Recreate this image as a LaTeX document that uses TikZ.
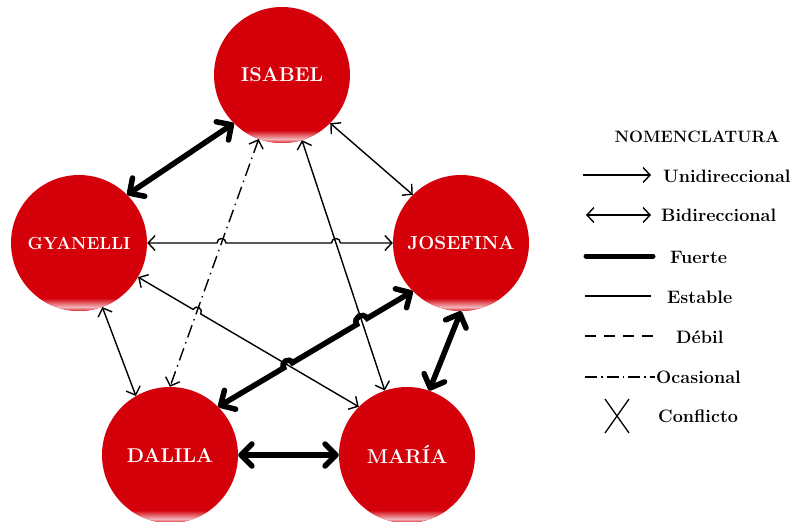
\documentclass[tikz,border=0pt]{standalone}
\usepackage{fontspec}
\usetikzlibrary{arrows.meta,calc,intersections}
\definecolor{nodered}{RGB}{212,0,10}
\definecolor{nodelight}{RGB}{240,180,185}
\tikzset{
  person/.style={circle, minimum size=136pt, inner sep=0pt, fill=nodered, text=white},
  rel/.style={line width=1.4pt, >={Straight Barb[length=7pt,width=15pt]}, <->},
  relone/.style={line width=1.4pt, >={Straight Barb[length=7pt,width=15pt]}, ->},
  strong/.style={line width=5.5pt, >={Straight Barb[round,length=11pt,width=22pt]}, <->},
  occasional/.style={dash pattern=on 13pt off 5pt on 1.5pt off 5pt},
  hop/.style={bend left=90, looseness=1.7},
  legtext/.style={font=\fontsize{18}{21}\selectfont\bfseries, anchor=west, inner sep=0pt},
}
\begin{document}
\begin{tikzpicture}[x=1pt,y=-1pt]
\useasboundingbox (0,0) rectangle (796,522);

% people
\node[person, font=\fontsize{20}{24}\selectfont\bfseries] (isabel) at (282,75) {ISABEL};
\node[person, font=\fontsize{17.5}{21}\selectfont\bfseries] (gyanelli) at (79,243) {GYANELLI};
\node[person, font=\fontsize{19}{22}\selectfont\bfseries] (josefina) at (461,243) {JOSEFINA};
\node[person, font=\fontsize{20}{24}\selectfont\bfseries] (dalila) at (170,455) {DALILA};
\node[person, font=\fontsize{20}{24}\selectfont\bfseries] (maria) at (407,455) {MARÍA};

% glossy bottom band
\foreach \n in {isabel,gyanelli,josefina,dalila,maria}{
  \begin{scope}
    \clip (\n) circle[radius=68];
    \shade[top color=nodered, bottom color=nodelight] ($(\n)+(-70,55)$) rectangle ($(\n)+(70,64)$);
    \shade[top color=nodelight, bottom color=nodered] ($(\n)+(-70,64)$) rectangle ($(\n)+(70,69)$);
  \end{scope}
}

% invisible guide paths for the crossings
\path[name path=dd] (isabel.250) -- (dalila.north);
\path[name path=im] (isabel.-73) -- (maria.109);
\path[name path=gj] (gyanelli.east) -- (josefina.west);
\path[name path=gm] (gyanelli.-30) -- (maria.135);
\path[name path=dj] (dalila.45) -- (josefina.225);
\path[name intersections={of=gj and dd, by={h1}}];
\path[name intersections={of=gj and im, by={h2}}];
\path[name intersections={of=gm and dd, by={h3}}];
\path[name intersections={of=dj and gm, by={h4}}];
\path[name intersections={of=dj and im, by={h5}}];

% connectors without hops
\draw[strong] (isabel.225) -- (gyanelli.45);
\draw[rel] (isabel.-45) -- (josefina.135);
\draw[rel, occasional] (isabel.250) -- (dalila.north);
\draw[rel] (isabel.-73) -- (maria.109);
\draw[rel] (gyanelli.-70) -- (dalila.120);
\draw[strong] (josefina.south) -- (maria.71);
\draw[strong] (dalila.east) -- (maria.west);

% connectors with hops
\draw[rel] (gyanelli.east) -- ($(h1)!4.5pt!(gyanelli.east)$) to[hop] ($(h1)!4.5pt!(josefina.west)$)
  -- ($(h2)!4.5pt!(gyanelli.east)$) to[hop] ($(h2)!4.5pt!(josefina.west)$) -- (josefina.west);
\draw[rel] (gyanelli.-30) -- ($(h3)!4.5pt!(gyanelli.-30)$) to[hop] ($(h3)!4.5pt!(maria.135)$) -- (maria.135);
\draw[strong] (dalila.45) -- ($(h4)!5pt!(dalila.45)$) to[hop] ($(h4)!5pt!(josefina.225)$)
  -- ($(h5)!6pt!(dalila.45)$) to[hop] ($(h5)!6pt!(josefina.225)$) -- (josefina.225);

% legend
\node[font=\fontsize{16.5}{20}\selectfont\bfseries] (nom) at (697,137) {NOMENCLATURA};

\coordinate (u1) at (583,175); \coordinate (u2) at (651,175);
\draw[relone] (u1) -- (u2);
\node[legtext] (lu) at (663,176) {Unidireccional};

\coordinate (b1) at (586,215); \coordinate (b2) at (651,215);
\draw[rel] (b1) -- (b2);
\node[legtext] (lb) at (661,215) {Bidireccional};

\coordinate (f1) at (586,256); \coordinate (f2) at (653,256);
\draw[line width=5pt, line cap=round] (f1) -- (f2);
\node[legtext] (lf) at (670,257) {Fuerte};

\coordinate (e1) at (585,296); \coordinate (e2) at (651,296);
\draw[line width=1.4pt] (e1) -- (e2);
\node[legtext] (le) at (667,297) {Estable};

\coordinate (d1) at (585,336); \coordinate (d2) at (653,336);
\draw[line width=1.4pt, dash pattern=on 11pt off 8pt] (d1) -- (d2);
\node[legtext] (ld) at (676,337) {Débil};

\coordinate (o1) at (585,377); \coordinate (o2) at (655,377);
\draw[line width=1.4pt, dash pattern=on 12pt off 4pt on 1.5pt off 4pt] (o1) -- (o2);
\node[legtext] (lo) at (656,377) {Ocasional};

\coordinate (x1) at (605,399); \coordinate (x2) at (629,433);
\coordinate (x3) at (629,399); \coordinate (x4) at (605,433);
\draw[line width=1.3pt] (x1) -- (x2);
\draw[line width=1.3pt] (x3) -- (x4);
\node[legtext] (lc) at (658,416) {Conflicto};
\end{tikzpicture}
\end{document}
